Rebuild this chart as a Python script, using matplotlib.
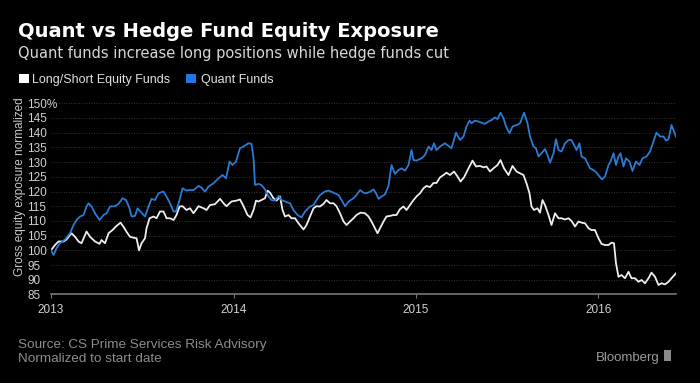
import pandas as pd
import matplotlib.pyplot as plt
from matplotlib.patches import Rectangle

# Quant funds: days since 2013-01-01 and normalized gross exposure (%)
quant_day = [0, 5, 11, 18, 28, 38, 45, 51, 58, 65, 71, 75, 81, 88, 97, 105, 111, 118, 128, 135,
             143, 150, 157, 161, 168, 173, 181, 188, 195, 201, 208, 215, 225, 231, 238, 245, 250, 257, 263, 271,
             278, 285, 295, 301, 308, 315, 325, 335, 343, 350, 357, 363, 370, 378, 385, 395, 401, 405, 408, 415,
             421, 428, 435, 441, 448, 455, 461, 468, 478, 485, 493, 501, 508, 518, 525, 531, 538, 548, 555, 565,
             575, 581, 588, 595, 605, 611, 618, 625, 631, 639, 645, 650, 655, 661, 668, 675, 681, 688, 695, 701,
             708, 715, 721, 725, 731, 741, 748, 755, 761, 766, 771, 778, 788, 795, 801, 810, 818, 825, 831, 837,
             841, 848, 855, 861, 868, 875, 881, 888, 893, 899, 905, 910, 917, 923, 931, 938, 946, 953, 958, 965,
             970, 975, 981, 988, 993, 998, 1005, 1010, 1015, 1021, 1028, 1035, 1041, 1046, 1051, 1057, 1061, 1068, 1073, 1078,
             1085, 1091, 1097, 1102, 1108, 1115, 1119, 1125, 1130, 1135, 1139, 1145, 1150, 1157, 1163, 1170, 1177, 1183, 1191, 1198,
             1205, 1211, 1218, 1225, 1230, 1235, 1241, 1246, 1250]
quant_val = [100, 98.4, 100.7, 102.4, 103.7, 105.8, 108.6, 110.3, 111.5, 112, 114.9, 116, 114.9, 112.6, 110.3, 112, 112.6, 114.9, 115, 115.8,
             117.7, 117.1, 114.3, 111.5, 111.7, 114.3, 112.8, 111.5, 114.9, 117.5, 117.1, 119.4, 120, 118.3, 116, 113.2, 113.2, 117.1, 121.1, 120.3,
             120.5, 120.5, 121.9, 121.3, 120, 121.7, 122.8, 124.5, 125.6, 124.5, 130.2, 129, 130.2, 134.7, 135.3, 136.4, 136.2, 131.3, 122.2, 122.6,
             122.2, 120.7, 118.3, 117.1, 116.9, 118.5, 117.1, 116.6, 116, 113.7, 112, 111.2, 113.2, 114.9, 115.4, 117.1, 118.8, 120, 120.3, 119.6,
             118.8, 117.1, 115, 116.6, 117.7, 118.8, 120.5, 119.6, 119.4, 120, 120.7, 119.4, 117.5, 118.3, 119, 121.9, 129, 126, 127.3, 127.9,
             127.1, 129, 134.1, 130.7, 130.5, 131.3, 132.4, 135.3, 134.1, 136.4, 134.1, 135.3, 136.4, 135.5, 134.7, 140, 137.5, 138.7, 142.1, 144.1,
             143.2, 144.1, 143.8, 143.4, 143, 143.8, 144.3, 145.2, 144.6, 146.8, 144.9, 142.1, 139.8, 142.1, 142.6, 143.2, 146.8, 143.2, 138.7, 135.3,
             134.7, 131.9, 133, 134.4, 132.4, 129.8, 133, 137.8, 134.1, 133.6, 136.4, 137.5, 137.5, 135.8, 134.1, 136.4, 131.9, 131.3, 129.6, 127.9,
             127.3, 126.4, 125.1, 124.1, 125.1, 129, 130.2, 133, 129, 131.9, 133, 128.5, 131.3, 130.2, 127, 130.2, 129, 131.3, 131.9, 133.6,
             137, 140, 138.7, 138.7, 137.3, 137.8, 142.6, 140.4, 138.7]

# Long/Short equity funds
ls_day = [0, 8, 15, 25, 31, 41, 48, 55, 61, 71, 78, 88, 97, 101, 108, 115, 123, 131, 139, 145,
          151, 158, 165, 171, 176, 181, 188, 191, 197, 205, 211, 218, 225, 231, 238, 245, 251, 257, 263, 271,
          278, 285, 295, 305, 311, 318, 328, 338, 345, 351, 361, 371, 378, 385, 393, 399, 405, 410, 415, 421,
          428, 433, 438, 445, 451, 458, 463, 468, 475, 481, 488, 495, 505, 511, 518, 525, 531, 538, 545, 551,
          558, 565, 571, 578, 585, 591, 598, 605, 611, 619, 628, 635, 641, 648, 653, 658, 665, 671, 678, 685,
          691, 698, 705, 711, 718, 725, 731, 738, 745, 751, 758, 765, 771, 778, 785, 791, 798, 806, 813, 819,
          826, 835, 843, 850, 858, 865, 871, 878, 885, 893, 899, 906, 915, 923, 931, 938, 945, 951, 957, 961,
          966, 973, 978, 983, 988, 995, 1001, 1008, 1015, 1021, 1028, 1035, 1041, 1048, 1055, 1061, 1068, 1075, 1081, 1088,
          1095, 1101, 1108, 1115, 1121, 1126, 1130, 1135, 1141, 1148, 1155, 1161, 1168, 1175, 1181, 1188, 1195, 1201, 1208, 1215,
          1221, 1228, 1235, 1241, 1250]
ls_val = [100, 101.8, 103, 103, 103.7, 105.8, 104.6, 103, 102.4, 106.4, 104.6, 103, 102.2, 103.5, 102.4, 105.8, 106.9, 108.3, 109.4, 108,
          106.3, 104.6, 104.3, 104.1, 100, 102.4, 104.1, 107.5, 110.9, 111.5, 110.9, 113.2, 113.2, 110.9, 110.9, 110.3, 112, 114.9, 115, 113.7,
          114.3, 112.6, 115, 114.3, 113.7, 115.4, 115.7, 117.5, 116, 115, 116.6, 116.9, 117.3, 115, 112, 111.2, 113.7, 116.9, 116.6, 117.1,
          117.7, 120.3, 119.6, 117.7, 116.9, 118.3, 113.7, 111.5, 112, 110.9, 110.9, 109.2, 107.1, 108.6, 111.5, 114.3, 115, 114.9, 115.8, 117.1,
          116, 116, 115, 112.6, 109.8, 108.6, 109.8, 110.9, 112, 112.8, 112.6, 111.5, 109.8, 107.5, 105.8, 107.5, 109.8, 111.5, 111.7, 112,
          112, 114, 114.9, 113.7, 115.4, 117.1, 118.3, 119.4, 121.1, 121.9, 121.5, 122.9, 122.9, 124.8, 125.6, 126.4, 125.6, 126.8, 125.1, 123.4,
          124.8, 127.9, 130.5, 128.5, 128.7, 128.2, 128.5, 126.8, 127.9, 129, 130.7, 127.9, 125.6, 128.7, 126.8, 126.2, 125.6, 122.8, 119.4, 114.9,
          113.7, 114.3, 112.8, 117.1, 115.4, 112, 108.6, 112.6, 110.9, 110.9, 110.5, 110.9, 110, 108.1, 109.8, 109.4, 109.2, 107.5, 106.9, 106.9,
          104.1, 102.2, 101.8, 101.8, 102.6, 102.4, 95.6, 91, 91.6, 90.5, 92.7, 90.5, 90.5, 89.3, 89.9, 88.8, 90.5, 92.4, 91, 88.2,
          88.8, 88.4, 89.3, 90.5, 92.2]

y_ticks = [85, 90, 95, 100, 105, 110, 115, 120, 125, 130, 135, 140, 145, 150]
y_labels = ['85', '90', '95', '100', '105', '110', '115', '120', '125', '130', '135', '140', '145', '150%']
x_years = ['2013', '2014', '2015', '2016']

start = pd.Timestamp('2013-01-01')
quant_dates = start + pd.to_timedelta(quant_day, unit='D')
ls_dates = start + pd.to_timedelta(ls_day, unit='D')

small = ['Liberation Sans', 'DejaVu Sans']
bg = 'black'
blue = '#2a7bd4'
white = '#eeeeee'

fig = plt.figure(figsize=(7, 3.83), dpi=100, facecolor=bg)
ax = fig.add_axes([0.0729, 0.2313, 0.8928, 0.499], facecolor=bg)

ax.plot(ls_dates, ls_val, color=white, lw=1.3)
ax.plot(quant_dates, quant_val, color=blue, lw=1.3)

ax.set_ylim(85, 150)
ax.set_xlim(start, quant_dates[-1])
ax.set_yticks(y_ticks)
ax.set_yticklabels(y_labels, fontfamily=small, fontsize=8.5, color='#d0d0d0', ha='left')
ax.tick_params(axis='y', length=0, pad=17)

year_pos = [pd.Timestamp(y + '-01-01') for y in x_years]
ax.set_xticks(year_pos)
ax.set_xticklabels(x_years, fontfamily=small, fontsize=8.5, color='#d0d0d0')
ax.tick_params(axis='x', length=3, color='#777777', pad=4)

for v in y_ticks[1:]:
    ax.axhline(v, color='#444444', lw=0.6, ls=(0, (1, 2)), zorder=0)

for s in ['top', 'right', 'left']:
    ax.spines[s].set_visible(False)
ax.spines['bottom'].set_color('#777777')
ax.spines['bottom'].set_linewidth(1.2)

ax.set_ylabel('Gross equity exposure normalized', fontfamily=small, fontsize=8.5,
              color='#c8c8c8')
ax.yaxis.label.set_va('center')
ax.yaxis.label.set_ha('center')
ax.yaxis.set_label_coords(-0.05, 0.565)

fig.text(0.026, 0.903, 'Quant vs Hedge Fund Equity Exposure', fontsize=14,
         fontweight='bold', color='white', va='baseline')
fig.text(0.026, 0.849, 'Quant funds increase long positions while hedge funds cut',
         fontsize=10.5, color='#d8d8d8', va='baseline')

fig.patches.append(Rectangle((0.027, 0.7825), 0.0147, 0.0243, transform=fig.transFigure,
                             facecolor='white', edgecolor='none'))
fig.text(0.046, 0.7825, 'Long/Short Equity Funds', fontfamily=small, fontsize=9,
         color='#e0e0e0', va='baseline')
fig.patches.append(Rectangle((0.2657, 0.7825), 0.0147, 0.0243, transform=fig.transFigure,
                             facecolor='#1e78e6', edgecolor='none'))
fig.text(0.2867, 0.7825, 'Quant Funds', fontfamily=small, fontsize=9,
         color='#e0e0e0', va='baseline')

fig.text(0.026, 0.091, 'Source: CS Prime Services Risk Advisory', fontfamily=small,
         fontsize=9.7, color='#8c8c8c', va='baseline')
fig.text(0.026, 0.055, 'Normalized to start date', fontfamily=small,
         fontsize=9.7, color='#8c8c8c', va='baseline')
fig.text(0.943, 0.058, 'Bloomberg', fontfamily=small, fontsize=9.5,
         color='#9a9a9a', va='baseline', ha='right')
fig.patches.append(Rectangle((0.949, 0.058), 0.010, 0.028, transform=fig.transFigure,
                             facecolor='#8a8a8a', edgecolor='none'))

fig.savefig('out.png', dpi=100, facecolor=bg)
